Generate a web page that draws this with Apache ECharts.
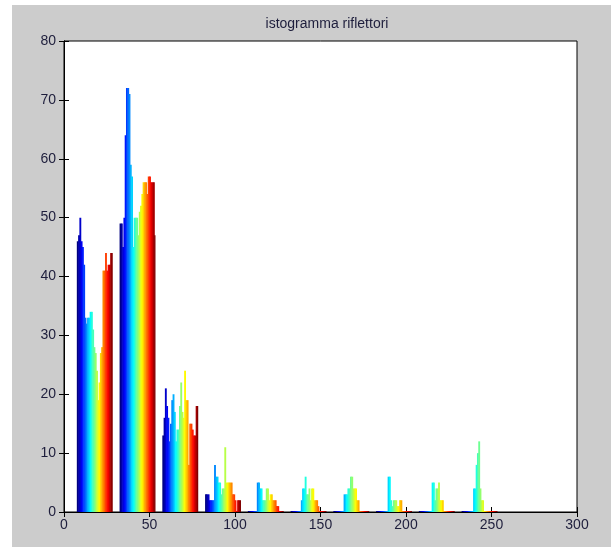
<!DOCTYPE html>
<html>
<head>
<meta charset="utf-8">
<title>istogramma riflettori</title>
<script src="https://cdn.jsdelivr.net/npm/echarts@6/dist/echarts.min.js"></script>
<style>
  html, body { margin: 0; padding: 0; background: #fff; }
  #main { width: 611px; height: 547px; }
</style>
</head>
<body>
<div id="main"></div>
<script>
// centri dei 10 bin dell'istogramma
var binCenters = [18, 43, 68, 93, 118, 143, 168, 193, 218, 243];
// conteggi per bin, una colonna per ogni serie (28 serie, colormap jet)
var bin1  = [46,47,50,46,45,42,33,32,33,33,34,34,31,28,27,24,19,22,27,28,41,41,44,41,42,42,44,44];
var bin2  = [49,49,45,50,64,72,72,71,59,57,45,50,50,50,47,51,52,54,56,56,56,54,57,57,56,56,56,47];
var bin3  = [13,16,21,18,16,12,15,19,20,17,12,14,14,18,22,17,16,24,19,19,8,15,15,14,13,13,18,18];
var bin4  = [3,3,3,2,2,2,2,8,6,6,5,5,3,4,4,11,5,5,5,5,5,3,3,2,0,2,2,2];
var bin5  = [0,0,0,0,0,0,0,5,5,4,4,2,2,2,4,4,2,3,3,2,2,2,1,1,0,0,0,0];
var bin6  = [0,0,0,0,0,0,0,0,2,4,4,6,3,3,4,2,4,4,2,2,2,1,0,0,0,0,0,0];
var bin7  = [0,0,0,0,0,0,0,0,3,3,3,4,4,6,6,4,4,4,2,2,0,0,0,0,0,0,0,0];
var bin8  = [0,0,0,0,0,0,0,0,0,6,6,2,1,2,2,2,1,1,2,2,0,0,0,0,0,0,0,0];
var bin9  = [0,0,0,0,0,0,0,0,0,0,5,5,2,4,4,5,2,2,2,0,0,0,0,0,0,0,0,0];
var bin10 = [0,0,0,0,0,0,0,0,0,4,4,8,10,12,4,2,2,0,0,0,0,0,0,0,0,0,0,0];
var xTicks = [0, 50, 100, 150, 200, 250, 300];
var yTicks = [0, 10, 20, 30, 40, 50, 60, 70, 80];

var bins = [bin1, bin2, bin3, bin4, bin5, bin6, bin7, bin8, bin9, bin10];
var nSeries = bin1.length;
var groupWidth = 21; // larghezza del gruppo in unita' dell'asse x

// colormap jet (come matlab)
function jet(t) {
  function c(v) { return Math.round(Math.max(0, Math.min(1, v)) * 255); }
  return 'rgb(' + c(1.5 - Math.abs(4 * t - 3)) + ',' + c(1.5 - Math.abs(4 * t - 2)) + ',' + c(1.5 - Math.abs(4 * t - 1)) + ')';
}

var data = [];
for (var g = 0; g < bins.length; g++) {
  for (var s = 0; s < nSeries; s++) {
    data.push([g, s, bins[g][s]]);
  }
}

function renderBar(params, api) {
  var g = api.value(0), s = api.value(1), v = api.value(2);
  var bw = groupWidth / nSeries;
  var x0 = binCenters[g] - groupWidth / 2 + s * bw;
  var pTop = api.coord([x0, v]);
  var pEnd = api.coord([x0 + bw, 0]);
  var h = pEnd[1] - pTop[1];
  if (h < 1) { h = 1; pTop[1] = pEnd[1] - 1; }
  // piccola sovrapposizione per non lasciare righe bianche tra le barre
  var w = pEnd[0] - pTop[0] + (s < nSeries - 1 ? 0.6 : 0);
  return {
    type: 'rect',
    shape: { x: pTop[0], y: pTop[1], width: w, height: h },
    style: { fill: jet(s / (nSeries - 1)) }
  };
}

var labelStyle = { color: '#1e1e3c', fontFamily: 'Liberation Sans, Arial, sans-serif', fontSize: 14 };
var lineStyle = { color: '#000', width: 1 };

var myChart = echarts.init(document.getElementById('main'));
myChart.setOption({
  animation: false,
  backgroundColor: '#fff',
  graphic: [{
    type: 'rect', z: -10, silent: true,
    shape: { x: 12, y: 5, width: 599, height: 542 },
    style: { fill: '#cccccc' }
  }],
  title: {
    text: 'istogramma riflettori',
    left: 322, top: 12, textAlign: 'center',
    textStyle: { color: '#1e1e3c', fontFamily: 'Liberation Sans, Arial, sans-serif', fontSize: 14, fontWeight: 'normal' }
  },
  grid: {
    left: 64, right: 34, top: 41, bottom: 35,
    show: true, backgroundColor: '#fff', borderColor: '#000', borderWidth: 1
  },
  xAxis: [{
    type: 'value', min: xTicks[0], max: xTicks[xTicks.length - 1], interval: 50,
    axisLine: { show: true, lineStyle: lineStyle },
    axisTick: { show: true, inside: true, length: 5, lineStyle: lineStyle },
    axisLabel: Object.assign({ margin: 6 }, labelStyle),
    splitLine: { show: false }
  }, {
    type: 'value', position: 'top', min: xTicks[0], max: xTicks[xTicks.length - 1], interval: 50,
    axisLine: { show: true, lineStyle: lineStyle },
    axisTick: { show: true, inside: true, length: 5, lineStyle: lineStyle },
    axisLabel: { show: false },
    splitLine: { show: false }
  }],
  yAxis: [{
    type: 'value', min: yTicks[0], max: yTicks[yTicks.length - 1], interval: 10,
    axisLine: { show: true, lineStyle: lineStyle },
    axisTick: { show: true, inside: true, length: 5, lineStyle: lineStyle },
    axisLabel: Object.assign({ margin: 8 }, labelStyle),
    splitLine: { show: false }
  }, {
    type: 'value', position: 'right', min: yTicks[0], max: yTicks[yTicks.length - 1], interval: 10,
    axisLine: { show: true, lineStyle: lineStyle },
    axisTick: { show: true, inside: true, length: 5, lineStyle: lineStyle },
    axisLabel: { show: false },
    splitLine: { show: false }
  }],
  series: [{
    type: 'custom',
    renderItem: renderBar,
    data: data,
    z: 5
  }]
});
</script>
</body>
</html>
